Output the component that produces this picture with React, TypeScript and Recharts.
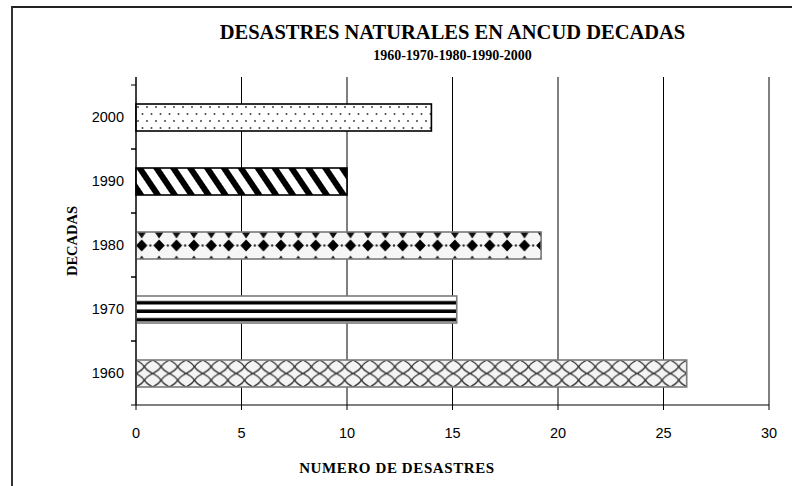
import React from 'react';
import { BarChart, Bar, XAxis, YAxis, CartesianGrid, Label } from 'recharts';

// decades and number of natural disasters per decade
const decades = ['1960', '1970', '1980', '1990', '2000'];
const disasters = [26.1, 15.2, 19.2, 10, 14];
const xTicks = [0, 5, 10, 15, 20, 25, 30];

const data = decades.map((d, i) => ({ decade: d, value: disasters[i] }));

const patternIds = ['pat1960', 'pat1970', 'pat1980', 'pat1990', 'pat2000'];
const barStrokes = ['#7a7a7a', '#7a7a7a', '#7a7a7a', '#000', '#000'];

const serif = '"Liberation Serif", "Times New Roman", serif';
const sans = 'Arial, "Liberation Sans", Helvetica, sans-serif';

// patterns are in the bar's own coordinates (the shape translates to the bar corner)
function Patterns() {
  return (
    <svg width={0} height={0} style={{ position: 'absolute' }}>
      <defs>
        <pattern id="pat2000" patternUnits="userSpaceOnUse" width={9} height={14}>
          <rect width={9} height={14} fill="#fff" />
          <circle cx={2} cy={3} r={1} fill="#444" />
          <circle cx={6.5} cy={10} r={1} fill="#444" />
        </pattern>
        <pattern id="pat1990" patternUnits="userSpaceOnUse" width={14} height={14} patternTransform="rotate(-34)">
          <rect width={14} height={14} fill="#fff" />
          <rect x={0} y={0} width={6} height={14} fill="#000" />
        </pattern>
        <pattern id="pat1980" patternUnits="userSpaceOnUse" x={-3} y={0} width={17.4} height={27}>
          <rect width={17.4} height={27} fill="#f6f6f6" />
          <polygon points="8.7,7.5 14.4,13.5 8.7,19.5 3,13.5" fill="#000" />
          <polygon points="4.2,0 13.2,0 8.7,6.5" fill="#111" />
          <polygon points="6.2,27 11.2,27 8.7,23.5" fill="#222" />
          <circle cx={0} cy={13.5} r={1.2} fill="#333" />
          <circle cx={17.4} cy={13.5} r={1.2} fill="#333" />
        </pattern>
        <pattern id="pat1970" patternUnits="userSpaceOnUse" width={10} height={8.5}>
          <rect width={10} height={8.5} fill="#fff" />
          <rect x={0} y={5} width={10} height={3.5} fill="#000" />
        </pattern>
        <pattern id="pat1960" patternUnits="userSpaceOnUse" width={16.7} height={13.5}>
          <rect width={16.7} height={13.5} fill="#f4f4f4" />
          <path d="M0,0 Q6,3 8.35,6.75 Q10.7,10.5 16.7,13.5 M16.7,0 Q10.7,3 8.35,6.75 Q6,10.5 0,13.5" stroke="#333" strokeWidth={1.4} fill="none" />
        </pattern>
      </defs>
    </svg>
  );
}

const PatternBar = (props: any) => {
  const { x, y, width, height, index } = props;
  if (!width || !height) return null;
  return (
    <g transform={`translate(${x},${y})`}>
      <rect
        x={0}
        y={0}
        width={width}
        height={height}
        fill={`url(#${patternIds[index]})`}
        stroke={barStrokes[index]}
        strokeWidth={1.6}
      />
    </g>
  );
};

const XTick = (props: any) => {
  const { x, y, payload } = props;
  return (
    <text x={x} y={y + 18} textAnchor="middle" style={{ fontFamily: sans, fontSize: 14.5, fill: '#000' }}>
      {payload.value}
    </text>
  );
};

// category label plus the Excel-style tick marks on the band edges
const YTick = (props: any) => {
  const { x, y, payload, height } = props;
  const half = payload && payload.offset ? payload.offset : ((height || 328) - 8) / 10;
  const ax = x + 12;
  return (
    <g>
      <line x1={ax - 5} x2={ax} y1={y - half} y2={y - half} stroke="#000" />
      <line x1={ax - 5} x2={ax} y1={y + half} y2={y + half} stroke="#000" />
      <text x={x} y={y + 5} textAnchor="end" style={{ fontFamily: sans, fontSize: 14.5, fill: '#000' }}>
        {payload.value}
      </text>
    </g>
  );
};

export default function App() {
  return (
    <div style={{ position: 'absolute', left: 0, top: 0, width: 792, height: 486, background: '#fff', fontFamily: sans }}>
      <Patterns />
      <div
        style={{
          position: 'absolute',
          left: 11,
          top: 6,
          width: 800,
          height: 500,
          borderTop: '2px solid #222',
          borderLeft: '2px solid #333',
        }}
      />
      <div
        style={{
          position: 'absolute',
          left: 136,
          width: 633,
          top: 18,
          textAlign: 'center',
          fontFamily: serif,
          fontWeight: 'bold',
          color: '#000',
        }}
      >
        <div style={{ fontSize: 20.5, lineHeight: '28px' }}>DESASTRES NATURALES EN ANCUD DECADAS</div>
        <div style={{ fontSize: 14, lineHeight: '20px' }}>1960-1970-1980-1990-2000</div>
      </div>
      <div style={{ position: 'absolute', left: 0, top: 0 }}>
        <BarChart
          width={792}
          height={486}
          data={data}
          layout="vertical"
          margin={{ top: 77, right: 23, bottom: 0, left: 0 }}
        >
          <CartesianGrid horizontal={false} stroke="#000" strokeWidth={1} />
          <XAxis
            type="number"
            dataKey="value"
            domain={[0, 30]}
            ticks={xTicks}
            height={81}
            tickSize={5}
            tickMargin={10}
            stroke="#000"
            tick={<XTick />}
          >
            <Label
              content={(p: any) => {
                const vb = p.viewBox || { y: 405, height: 81 };
                const cy = vb.y + 63;
                return (
                  <text
                    x={397}
                    y={cy}
                    textAnchor="middle"
                    dominantBaseline="central"
                    letterSpacing={0.6}
                    style={{ fontFamily: serif, fontWeight: 'bold', fontSize: 15, fill: '#000' }}
                  >
                    NUMERO DE DESASTRES
                  </text>
                );
              }}
            />
          </XAxis>
          <YAxis
            yAxisId="cat"
            type="category"
            dataKey="decade"
            reversed
            width={136}
            padding={{ top: 8, bottom: 0 }}
            tickLine={false}
            tickSize={0}
            tickMargin={12}
            stroke="#000"
            tick={<YTick />}
          >
            <Label
              content={(p: any) => {
                const vb = p.viewBox || { y: 85, height: 320 };
                const cy = vb.y + vb.height / 2;
                return (
                  <text
                    x={72}
                    y={cy}
                    transform={`rotate(-90, 72, ${cy})`}
                    textAnchor="middle"
                    dominantBaseline="central"
                    style={{ fontFamily: serif, fontWeight: 'bold', fontSize: 14.5, fill: '#000' }}
                  >
                    DECADAS
                  </text>
                );
              }}
            />
          </YAxis>
          <Bar
            dataKey="value"
            yAxisId="cat"
            barSize={27}
            shape={PatternBar}
            isAnimationActive={false}
          />
        </BarChart>
      </div>
    </div>
  );
}
